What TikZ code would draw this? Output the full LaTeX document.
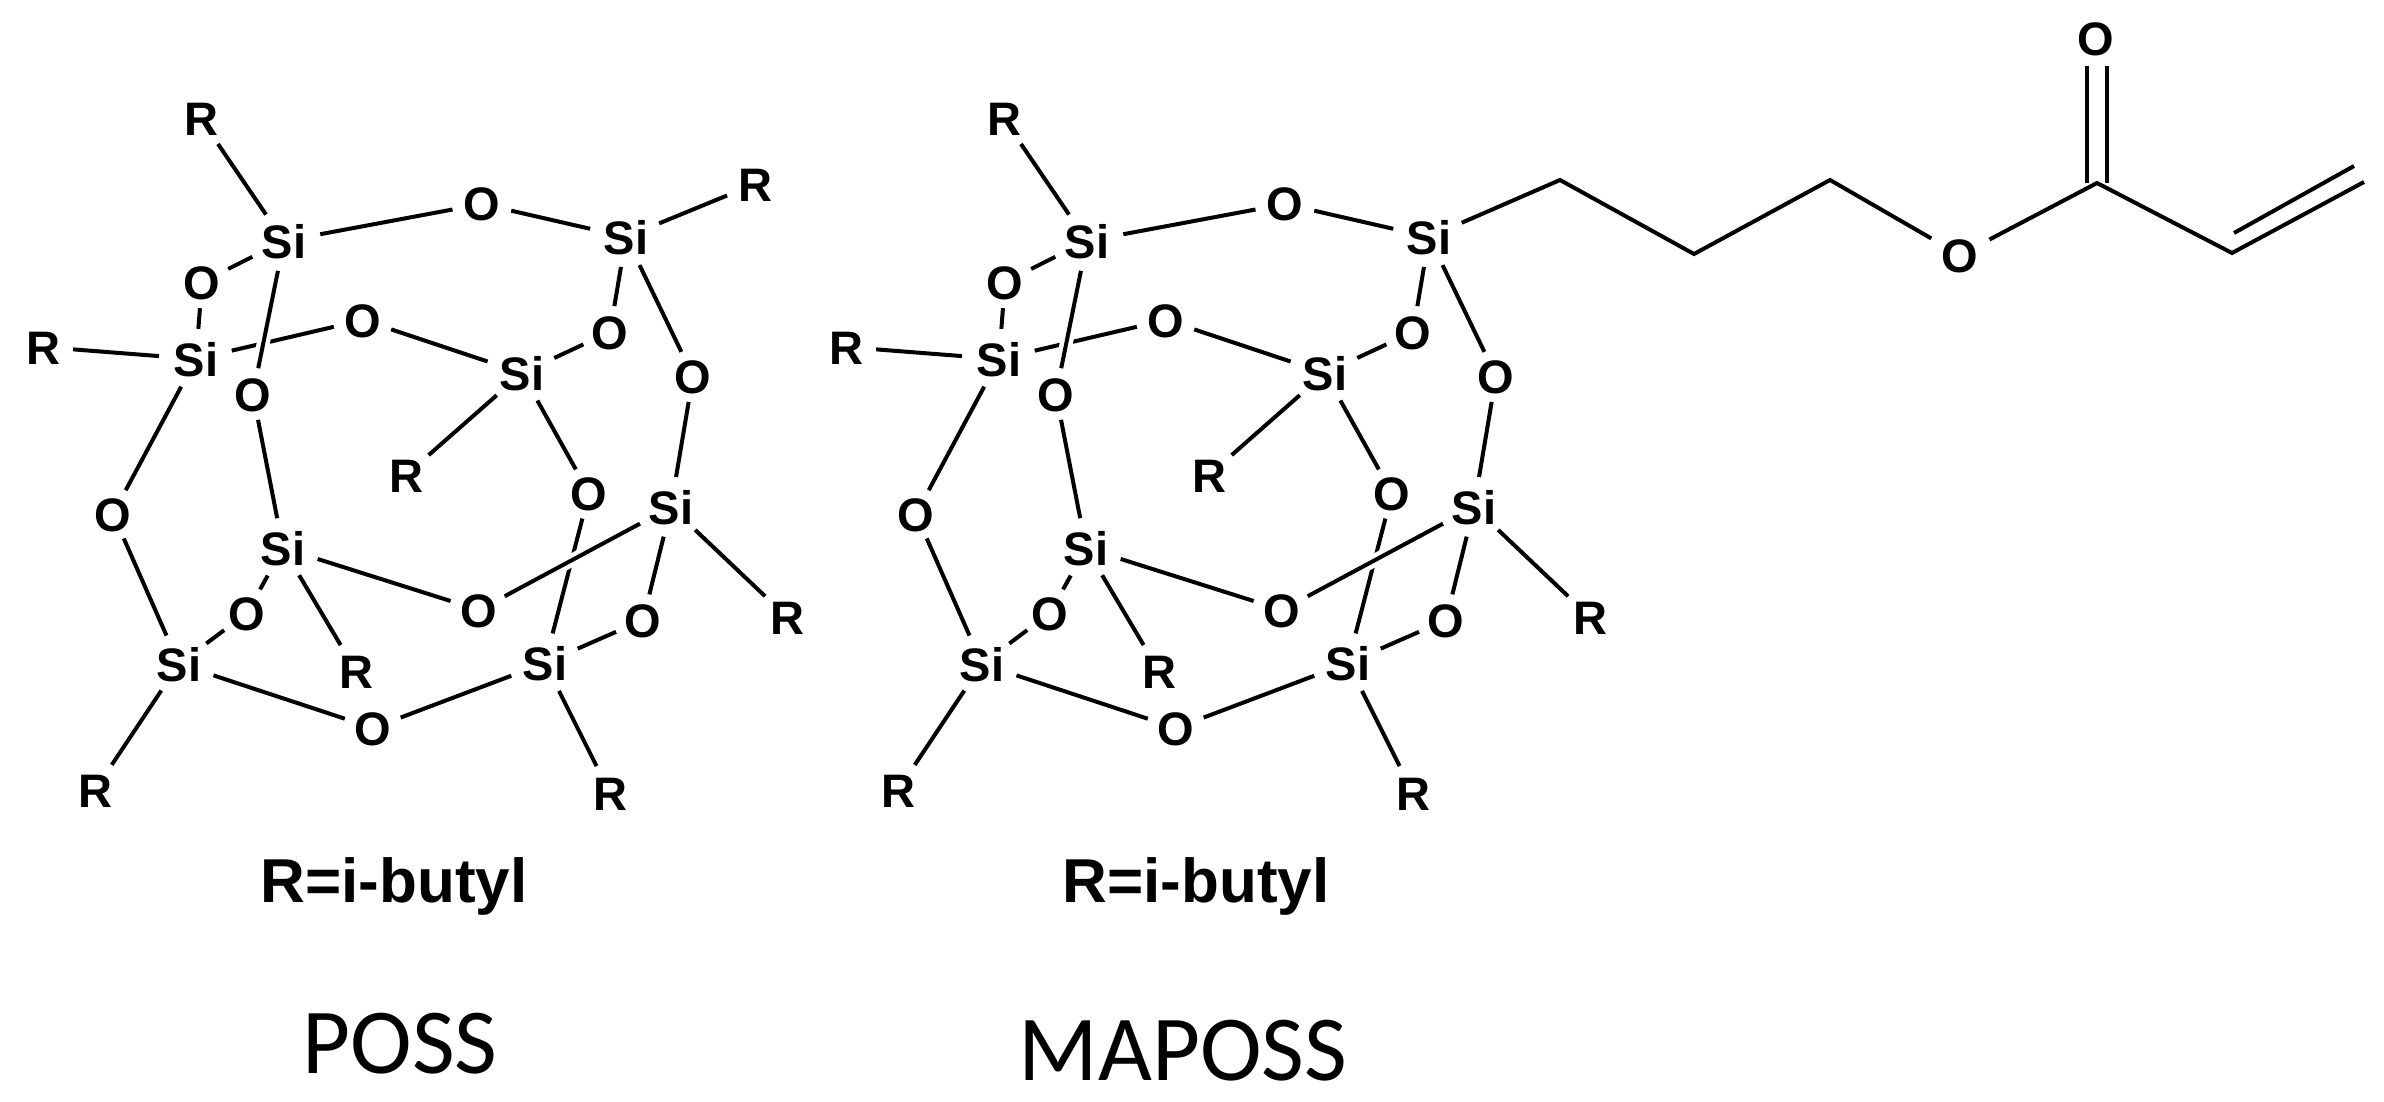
\documentclass[tikz,border=0pt]{standalone}
\usetikzlibrary{shapes.geometric}
\usepackage{fontspec}
\setmainfont{Liberation Sans}
\newfontfamily\capfont{Carlito}
\tikzset{
  x=1pt,y=-1pt,
  bond/.style={draw=black,line width=4pt},
  overbond/.style={bond,preaction={draw=white,line width=13pt}},
  atomSi/.style={ellipse,inner sep=0pt,minimum width=74pt,minimum height=60pt,text height=34pt,text depth=0pt,
    font=\bfseries\fontsize{47}{47}\selectfont},
  atomO/.style={ellipse,inner sep=0pt,minimum width=60pt,minimum height=52pt,text height=34pt,text depth=0pt,
    font=\bfseries\fontsize{47}{47}\selectfont},
  atomR/.style={atomO,minimum width=60pt,minimum height=60pt},
  note/.style={inner sep=0pt,anchor=base,font=\bfseries\fontsize{62}{62}\selectfont},
  title/.style={inner sep=0pt,anchor=center,font=\capfont\fontsize{93}{93}\selectfont}
}
\newcommand\cagecore[1]{%
  \node[atomSi] (#1Si1) at (284,241) {Si};
  \node[atomSi] (#1Si2) at (626,237) {Si};
  \node[atomSi] (#1Si3) at (196,359) {Si};
  \node[atomSi] (#1Si4) at (522,373) {Si};
  \node[atomSi] (#1Si5) at (671,507) {Si};
  \node[atomSi] (#1Si6) at (283,548) {Si};
  \node[atomSi] (#1Si7) at (179,664) {Si};
  \node[atomSi] (#1Si8) at (545,663) {Si};
  \node[atomO] (#1O12) at (482,204) {O};
  \node[atomO] (#1O13) at (202,282) {O};
  \node[atomO] (#1O34) at (363,320) {O};
  \node[atomO] (#1O16) at (253,394) {O};
  \node[atomO] (#1O24) at (610,332) {O};
  \node[atomO] (#1O25) at (693,376) {O};
  \node[atomO] (#1O37) at (113,514) {O};
  \node[atomO] (#1O45) at (589,493) {O};
  \node[atomO] (#1O56) at (479,610) {O};
  \node[atomO] (#1O67) at (247,613) {O};
  \node[atomO] (#1O58) at (643,620) {O};
  \node[atomO] (#1O78) at (373,728) {O};
  \node[atomR] (#1R1) at (201,119) {R};
  \node[atomR] (#1R3) at (43,347) {R};
  \node[atomR] (#1R4) at (406,475) {R};
  \node[atomR] (#1R5) at (787,617) {R};
  \node[atomR] (#1R6) at (356,671) {R};
  \node[atomR] (#1R7) at (95,790) {R};
  \node[atomR] (#1R8) at (610,793) {R};
  \foreach \a/\b in {Si1/O12,O12/Si2,Si1/O13,O13/Si3,Si3/O34,O34/Si4,O16/Si6,
      Si2/O24,O24/Si4,Si2/O25,O25/Si5,Si3/O37,O37/Si7,Si4/O45,O45/Si8,
      Si6/O56,Si6/O67,O67/Si7,Si5/O58,O58/Si8,Si7/O78,O78/Si8,
      Si1/R1,Si3/R3,Si4/R4,Si5/R5,Si6/R6,Si7/R7,Si8/R8}
    \draw[bond] (#1\a) -- (#1\b);
  \draw[overbond] (#1Si1) -- (#1O16);
  \draw[overbond] (#1Si5) -- (#1O56);
}
\begin{document}
\begin{tikzpicture}
\useasboundingbox (0,0) rectangle (2384,1102);
\fill[white] (0,0) rectangle (2384,1102);
% POSS
\begin{scope}
  \cagecore{p}
  \node[atomR] (pR2) at (755,184) {R};
  \draw[bond] (pSi2) -- (pR2);
\end{scope}
% MAPOSS
\begin{scope}[xshift=803pt]
  \cagecore{m}
\end{scope}
\coordinate (c1) at (1560,180);
\coordinate (c2) at (1694,254);
\coordinate (c3) at (1830,180);
\node[atomO,minimum width=66pt,minimum height=66pt] (oe) at (1960,255) {O};
\coordinate (cc) at (2097,183);
\node[atomO] (oc) at (2096,39) {O};
\coordinate (cl) at (2087,183);
\coordinate (cr) at (2107,183);
\coordinate (ol) at (2087,66);
\coordinate (or) at (2107,66);
\coordinate (ch) at (2232,253);
\coordinate (ce) at (2364,182);
\coordinate (ia) at (2234,233);
\coordinate (ib) at (2354,166);
\draw[bond,line join=miter] (mSi2) -- (c1) -- (c2) -- (c3) -- (oe);
\draw[bond,line join=miter] (oe) -- (cc) -- (ch) -- (ce);
\draw[bond] (cl) -- (ol);
\draw[bond] (cr) -- (or);
\draw[bond] (ia) -- (ib);
% captions
\node[note] (n1) at (394,902) {R=i-butyl};
\node[note] (n2) at (1196,902) {R=i-butyl};
\node[title] (t1) at (400,1044) {POSS};
\node[title] (t2) at (1183,1051) {MAPOSS};
\end{tikzpicture}
\end{document}
